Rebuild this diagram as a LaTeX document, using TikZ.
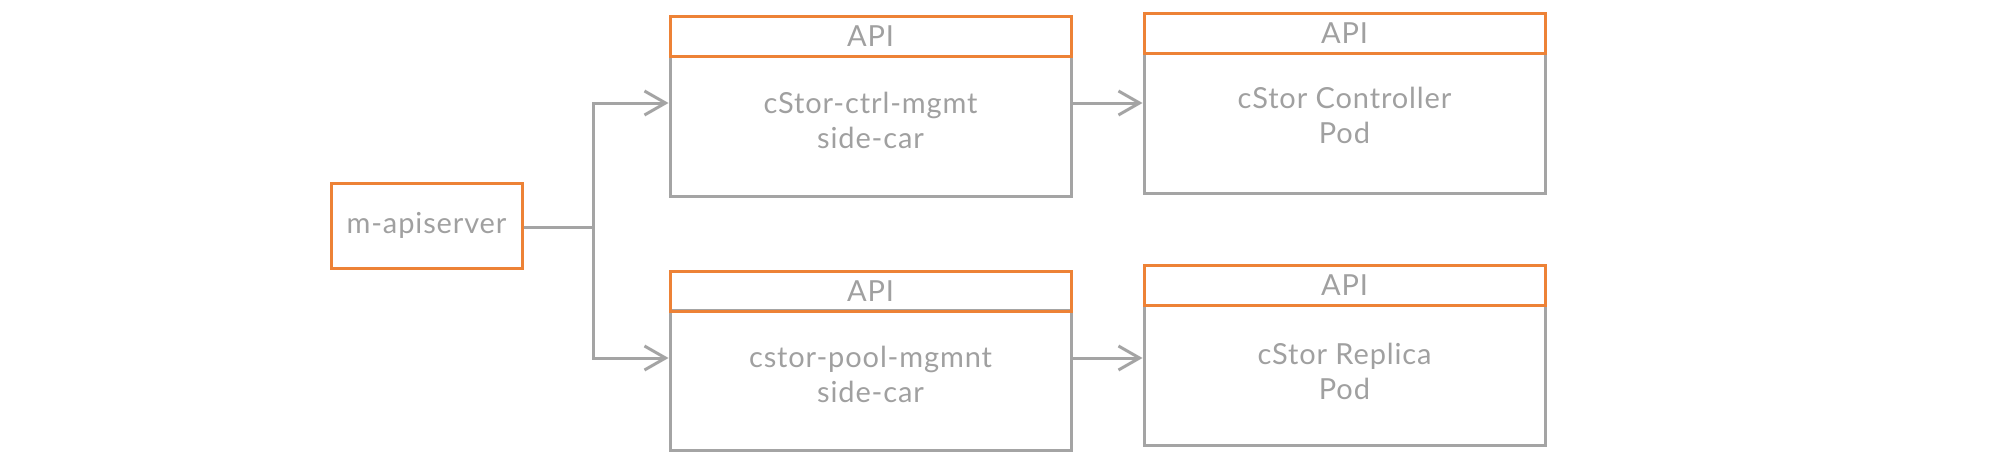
\documentclass[tikz,border=0pt]{standalone}
\usepackage{fontspec}
\setmainfont{Lato}[LetterSpace=3.0]
\usepackage{xcolor}
\usepackage{tikz}
\usetikzlibrary{arrows.meta}

\definecolor{apiorange}{HTML}{ED8236}
\definecolor{linegray}{HTML}{A4A4A4}
\definecolor{labelgray}{HTML}{A0A0A0}

\begin{document}
\begin{tikzpicture}[x=0.5pt,y=-0.5pt,
  body/.style={draw=linegray, line width=1.5pt, minimum width=200.5pt, minimum height=70pt, inner sep=0pt},
  apistrip/.style={draw=apiorange, line width=1.5pt, minimum width=200.5pt, minimum height=20pt, inner sep=0pt,
    text=labelgray, font=\fontsize{14.5}{17.5}\selectfont},
  caption/.style={text=labelgray, align=center, font=\fontsize{14.5}{17.5}\selectfont},
  link/.style={draw=linegray, line width=1.5pt},
  feed/.style={link, -{Straight Barb[length=10.5pt, width=12pt, line width=1.5pt]}}]

\useasboundingbox (0,0) rectangle (1991,466);

% m-apiserver
\node[draw=apiorange, line width=1.5pt, minimum width=95.5pt, minimum height=42.5pt, inner sep=0pt,
  text=labelgray, font=\fontsize{14.5}{17.5}\selectfont] (srv) at (426.5,225.5) {m-apiserver};

% side-cars
\node[body] (ctrl) at (870.5,126.5) {};
\node[apistrip] (ctrlapi) at (870.5,36.5) {API};
\node[caption] (ctrltxt) at (870.5,120) {cStor-ctrl-mgmt\\side-car};

\node[body] (pool) at (870.5,380) {};
\node[apistrip] (poolapi) at (870.5,291) {API};
\node[caption] (pooltxt) at (870.5,374) {cstor-pool-mgmnt\\side-car};

% pods
\node[body] (ctrlpod) at (1344.5,123) {};
\node[apistrip] (ctrlpodapi) at (1344.5,33) {API};
\node[caption] (ctrlpodtxt) at (1344.5,115) {cStor Controller\\Pod};

\node[body] (replpod) at (1344.5,375.5) {};
\node[apistrip] (replpodapi) at (1344.5,285.5) {API};
\node[caption] (replpodtxt) at (1344.5,371) {cStor Replica\\Pod};

% connectors
\coordinate (fork) at (593,227);
\coordinate (toprow) at (0,103);
\coordinate (botrow) at (0,358);

\draw[link] (srv.east |- fork) -- (fork);
\draw[feed] (fork) |- (ctrl.west |- toprow);
\draw[feed] (fork) |- (pool.west |- botrow);
\draw[feed] (ctrl.east |- toprow) -- (ctrlpod.west |- toprow);
\draw[feed] (pool.east |- botrow) -- (replpod.west |- botrow);

\end{tikzpicture}
\end{document}
